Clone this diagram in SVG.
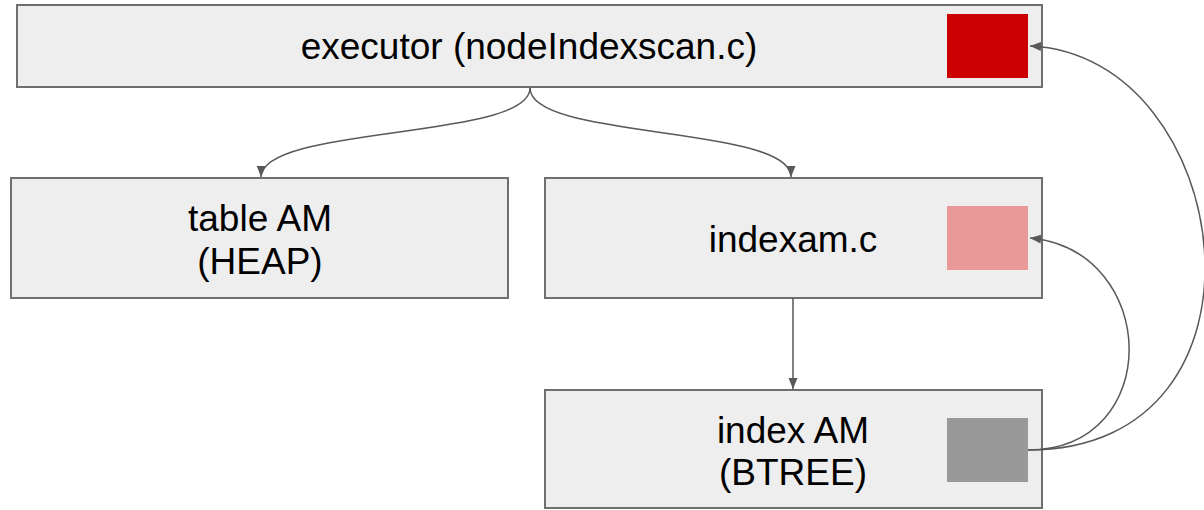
<svg xmlns="http://www.w3.org/2000/svg" width="1204" height="510" viewBox="0 0 1204 510">
<style>
.box{fill:#eeeeee;stroke:#6f6f6f;stroke-width:2}
.lbl{font-family:"Liberation Sans",Arial,sans-serif;font-size:37px;fill:#000;text-anchor:middle}
.con{fill:none;stroke:#595959;stroke-width:1.5;marker-end:url(#ah)}
</style>
<defs>
<marker id="ah" markerUnits="userSpaceOnUse" markerWidth="12" markerHeight="12" viewBox="0 0 12 12" refX="11" refY="6" orient="auto">
<path d="M0,1.5 L11,6 L0,10.5 Z" fill="#595959"/>
</marker>
</defs>
<rect width="1204" height="510" fill="#ffffff"/>
<g id="executor">
<rect class="box" x="17" y="5" width="1025" height="82"/>
<text class="lbl" x="529" y="59" font-size="38">executor (nodeIndexscan.c)</text>
<rect x="947" y="14" width="81" height="64" fill="#cc0000"/>
</g>
<g id="tableam">
<rect class="box" x="11" y="178" width="497" height="120"/>
<text class="lbl" x="260" y="231">table AM</text>
<text class="lbl" x="260" y="274">(HEAP)</text>
</g>
<g id="indexam_c">
<rect class="box" x="545" y="178" width="497" height="120"/>
<text class="lbl" x="793" y="252">indexam.c</text>
<rect x="947" y="206" width="81" height="64" fill="#ea9999"/>
</g>
<g id="indexam">
<rect class="box" x="545" y="390" width="497" height="118"/>
<text class="lbl" x="793" y="443">index AM</text>
<text class="lbl" x="793" y="485">(BTREE)</text>
<rect x="947" y="418" width="81" height="64" fill="#999999"/>
</g>
<g id="connectors">
<path class="con" d="M530,88 C530,140 262,125 261,177"/>
<path class="con" d="M530,88 C530,140 791,125 791,177"/>
<path class="con" d="M793,298 L793,389"/>
<path class="con" d="M1028,450 C1290,450 1236,55 1030,46"/>
<path class="con" d="M1028,450 C1165,450 1160,250 1030,238"/>
</g>
</svg>
